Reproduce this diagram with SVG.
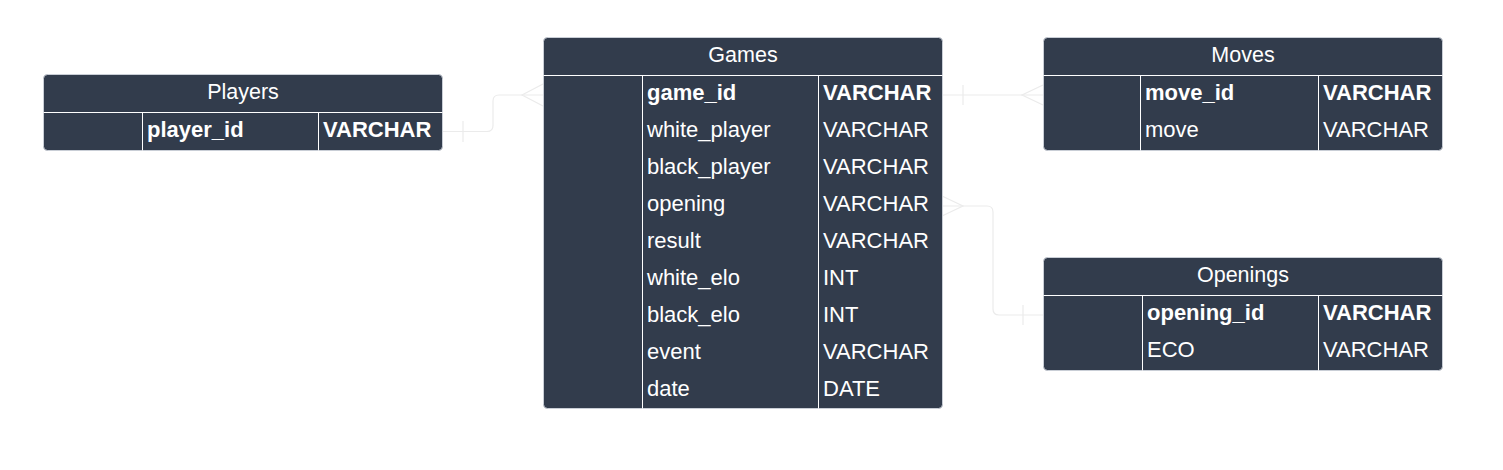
<svg xmlns="http://www.w3.org/2000/svg" width="1503" height="470" viewBox="0 0 1503 470">
<style>
.tbl{fill:#323c4c;stroke:#c9ced6;stroke-width:1}
.ln{stroke:#ffffff;stroke-width:1;fill:none}
.t{font-family:"Liberation Sans",Arial,sans-serif;font-size:22px;fill:#ffffff}
.h{text-anchor:middle;font-size:21.5px}
.b{font-weight:bold}
.c{stroke:#ebebeb;stroke-width:1.2;fill:none}
</style>
<rect width="1503" height="470" fill="#ffffff"/>
<g id="connectors">
<path class="c" d="M442,131.5 H487 Q493,131.5 493,125.5 V101 Q493,95 499,95 H543"/>
<path class="c" d="M463,121 V142"/>
<path class="c" d="M543,84 L522,95 L543,106"/>
<path class="c" d="M942,95 H1043"/>
<path class="c" d="M963,85 V105"/>
<path class="c" d="M1043,85 L1022,95 L1043,105"/>
<path class="c" d="M942,206 H987 Q993,206 993,212 V309 Q993,315 999,315 H1043"/>
<path class="c" d="M942,196 L963,206 L942,216"/>
<path class="c" d="M1023,305 V325"/>
</g>
<g id="players">
<rect class="tbl" x="43.5" y="74.5" width="399" height="76" rx="4"/>
<line class="ln" x1="43.5" y1="112.5" x2="442.5" y2="112.5"/>
<line class="ln" x1="142.5" y1="112.5" x2="142.5" y2="150.5"/>
<line class="ln" x1="318.5" y1="112.5" x2="318.5" y2="150.5"/>
<text class="t h" x="243" y="98.5">Players</text>
<text class="t b" x="147" y="137">player_id</text>
<text class="t b" x="323" y="137">VARCHAR</text>
</g>
<g id="games">
<rect class="tbl" x="543.5" y="37.5" width="399" height="371" rx="4"/>
<line class="ln" x1="543.5" y1="75.5" x2="942.5" y2="75.5"/>
<line class="ln" x1="642.5" y1="75.5" x2="642.5" y2="408.5"/>
<line class="ln" x1="818.5" y1="75.5" x2="818.5" y2="408.5"/>
<text class="t h" x="743" y="61.5">Games</text>
<text class="t b" x="647" y="100">game_id</text><text class="t b" x="823" y="100">VARCHAR</text>
<text class="t" x="647" y="137">white_player</text><text class="t" x="823" y="137">VARCHAR</text>
<text class="t" x="647" y="174">black_player</text><text class="t" x="823" y="174">VARCHAR</text>
<text class="t" x="647" y="211">opening</text><text class="t" x="823" y="211">VARCHAR</text>
<text class="t" x="647" y="248">result</text><text class="t" x="823" y="248">VARCHAR</text>
<text class="t" x="647" y="285">white_elo</text><text class="t" x="823" y="285">INT</text>
<text class="t" x="647" y="322">black_elo</text><text class="t" x="823" y="322">INT</text>
<text class="t" x="647" y="359">event</text><text class="t" x="823" y="359">VARCHAR</text>
<text class="t" x="647" y="396">date</text><text class="t" x="823" y="396">DATE</text>
</g>
<g id="moves">
<rect class="tbl" x="1043.5" y="37.5" width="399" height="113" rx="4"/>
<line class="ln" x1="1043.5" y1="75.5" x2="1442.5" y2="75.5"/>
<line class="ln" x1="1140.5" y1="75.5" x2="1140.5" y2="150.5"/>
<line class="ln" x1="1318.5" y1="75.5" x2="1318.5" y2="150.5"/>
<text class="t h" x="1243" y="61.5">Moves</text>
<text class="t b" x="1145" y="100">move_id</text><text class="t b" x="1323" y="100">VARCHAR</text>
<text class="t" x="1145" y="137">move</text><text class="t" x="1323" y="137">VARCHAR</text>
</g>
<g id="openings">
<rect class="tbl" x="1043.5" y="257.5" width="399" height="113" rx="4"/>
<line class="ln" x1="1043.5" y1="295.5" x2="1442.5" y2="295.5"/>
<line class="ln" x1="1142.5" y1="295.5" x2="1142.5" y2="370.5"/>
<line class="ln" x1="1318.5" y1="295.5" x2="1318.5" y2="370.5"/>
<text class="t h" x="1243" y="281.5">Openings</text>
<text class="t b" x="1147" y="320">opening_id</text><text class="t b" x="1323" y="320">VARCHAR</text>
<text class="t" x="1147" y="357">ECO</text><text class="t" x="1323" y="357">VARCHAR</text>
</g>
</svg>
